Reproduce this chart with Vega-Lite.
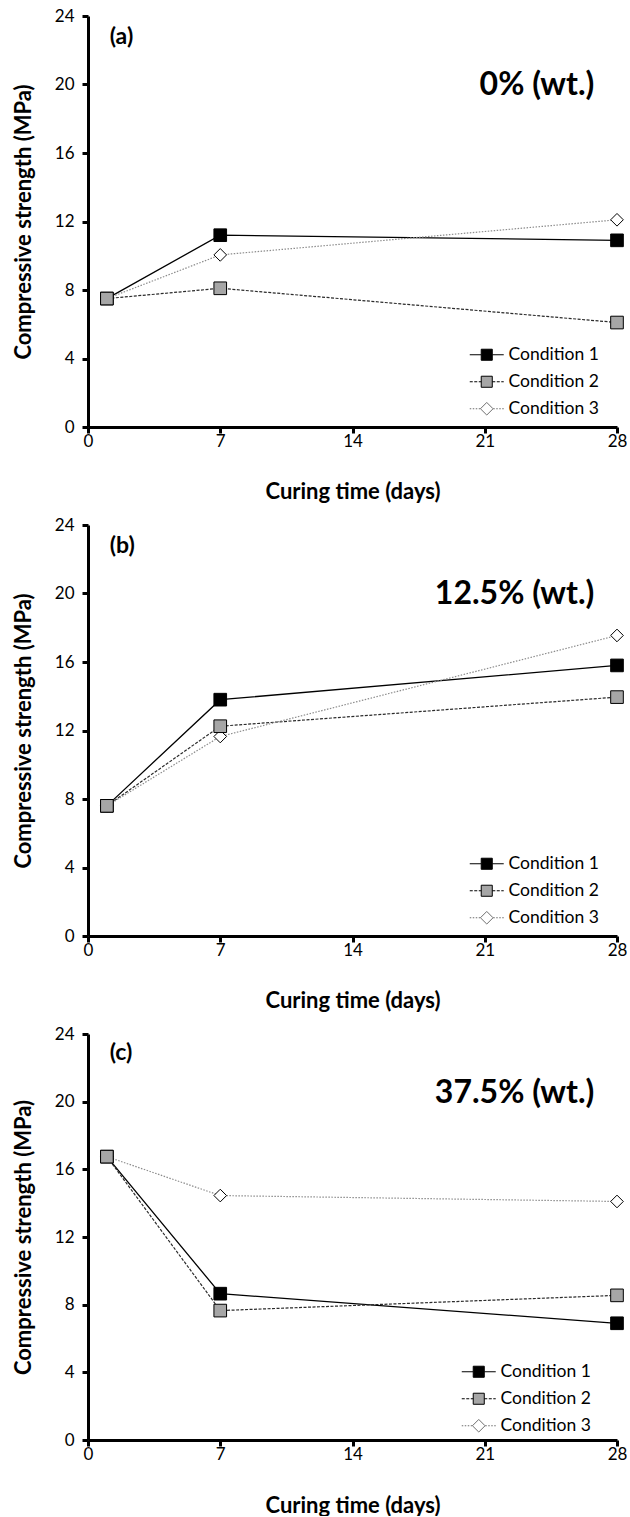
{
  "$schema": "https://vega.github.io/schema/vega-lite/v6.json",
  "padding": {"left": 12, "top": 7, "right": 0, "bottom": 0},
  "spacing": 14,
  "datasets": {
    "series": [
      {"panel": "a", "condition": "Condition 1", "day": 1, "strength": 7.5},
      {"panel": "a", "condition": "Condition 1", "day": 7, "strength": 11.2},
      {"panel": "a", "condition": "Condition 1", "day": 28, "strength": 10.9},
      {"panel": "a", "condition": "Condition 2", "day": 1, "strength": 7.5},
      {"panel": "a", "condition": "Condition 2", "day": 7, "strength": 8.1},
      {"panel": "a", "condition": "Condition 2", "day": 28, "strength": 6.1},
      {"panel": "a", "condition": "Condition 3", "day": 1, "strength": 7.5},
      {"panel": "a", "condition": "Condition 3", "day": 7, "strength": 10.05},
      {"panel": "a", "condition": "Condition 3", "day": 28, "strength": 12.1},
      {"panel": "b", "condition": "Condition 1", "day": 1, "strength": 7.6},
      {"panel": "b", "condition": "Condition 1", "day": 7, "strength": 13.8},
      {"panel": "b", "condition": "Condition 1", "day": 28, "strength": 15.8},
      {"panel": "b", "condition": "Condition 2", "day": 1, "strength": 7.6},
      {"panel": "b", "condition": "Condition 2", "day": 7, "strength": 12.25},
      {"panel": "b", "condition": "Condition 2", "day": 28, "strength": 13.95},
      {"panel": "b", "condition": "Condition 3", "day": 1, "strength": 7.6},
      {"panel": "b", "condition": "Condition 3", "day": 7, "strength": 11.65},
      {"panel": "b", "condition": "Condition 3", "day": 28, "strength": 17.55},
      {"panel": "c", "condition": "Condition 1", "day": 1, "strength": 16.75},
      {"panel": "c", "condition": "Condition 1", "day": 7, "strength": 8.65},
      {"panel": "c", "condition": "Condition 1", "day": 28, "strength": 6.9},
      {"panel": "c", "condition": "Condition 2", "day": 1, "strength": 16.75},
      {"panel": "c", "condition": "Condition 2", "day": 7, "strength": 7.65},
      {"panel": "c", "condition": "Condition 2", "day": 28, "strength": 8.55},
      {"panel": "c", "condition": "Condition 3", "day": 1, "strength": 16.75},
      {"panel": "c", "condition": "Condition 3", "day": 7, "strength": 14.45},
      {"panel": "c", "condition": "Condition 3", "day": 28, "strength": 14.1}
    ],
    "labels": [
      {"panel": "a", "tag": "(a)", "pct": "0% (wt.)"},
      {"panel": "b", "tag": "(b)", "pct": "12.5% (wt.)"},
      {"panel": "c", "tag": "(c)", "pct": "37.5% (wt.)"}
    ]
  },
  "vconcat": [
    {
      "width": 529, "height": 411,
      "layer": [
        {
          "data": {"name": "series"},
          "transform": [{"filter": "datum.panel === 'a' && datum.condition === 'Condition 1'"}],
          "mark": {"type": "line", "stroke": "#000000", "strokeWidth": 1.3},
          "encoding": {
            "x": {"field": "day", "type": "quantitative", "scale": {"domain": [0, 28], "nice": false}, "axis": {"values": [0, 7, 14, 21, 28], "title": "Curing time (days)", "labelFlush": false, "titlePadding": 32}},
            "y": {"field": "strength", "type": "quantitative", "scale": {"domain": [0, 24], "nice": false}, "axis": {"values": [0, 4, 8, 12, 16, 20, 24], "title": "Compressive strength (MPa)", "titlePadding": 19}}
          }
        },
        {
          "data": {"name": "series"},
          "transform": [{"filter": "datum.panel === 'a' && datum.condition === 'Condition 2'"}],
          "mark": {"type": "line", "stroke": "#2b2b2b", "strokeWidth": 1.2, "strokeDash": [3, 1.5]},
          "encoding": {"x": {"field": "day", "type": "quantitative"}, "y": {"field": "strength", "type": "quantitative"}}
        },
        {
          "data": {"name": "series"},
          "transform": [{"filter": "datum.panel === 'a' && datum.condition === 'Condition 3'"}],
          "mark": {"type": "line", "stroke": "#8c8c8c", "strokeWidth": 1.2, "strokeDash": [1.5, 1.5]},
          "encoding": {"x": {"field": "day", "type": "quantitative"}, "y": {"field": "strength", "type": "quantitative"}}
        },
        {
          "data": {"name": "series"},
          "transform": [{"filter": "datum.panel === 'a' && datum.condition === 'Condition 1'"}],
          "mark": {"type": "point", "shape": "square", "filled": true, "fill": "#000000", "stroke": "#000000", "strokeWidth": 1, "size": 160, "opacity": 1},
          "encoding": {"x": {"field": "day", "type": "quantitative"}, "y": {"field": "strength", "type": "quantitative"}}
        },
        {
          "data": {"name": "series"},
          "transform": [{"filter": "datum.panel === 'a' && datum.condition === 'Condition 3'"}],
          "mark": {"type": "point", "shape": "diamond", "filled": true, "fill": "#ffffff", "stroke": "#000000", "strokeWidth": 1, "size": 160, "opacity": 1},
          "encoding": {"x": {"field": "day", "type": "quantitative"}, "y": {"field": "strength", "type": "quantitative"}}
        },
        {
          "data": {"name": "series"},
          "transform": [{"filter": "datum.panel === 'a' && datum.condition === 'Condition 2'"}],
          "mark": {"type": "point", "shape": "square", "filled": true, "fill": "#a6a6a6", "stroke": "#000000", "strokeWidth": 1, "size": 160, "opacity": 1},
          "encoding": {"x": {"field": "day", "type": "quantitative"}, "y": {"field": "strength", "type": "quantitative"}}
        },
        {
          "data": {"name": "series"},
          "transform": [{"filter": "datum.panel === 'a'"}, {"filter": "false"}],
          "mark": {"type": "point", "filled": true, "size": 144, "strokeWidth": 1, "opacity": 1},
          "encoding": {
            "x": {"field": "day", "type": "quantitative"},
            "y": {"field": "strength", "type": "quantitative"},
            "shape": {"field": "condition", "type": "nominal", "scale": {"domain": ["Condition 1", "Condition 2", "Condition 3"], "range": ["M-2.833,0L-0.92,0M0.92,0L2.833,0M-0.92,-0.92L0.92,-0.92L0.92,0.92L-0.92,0.92Z", "M-2.833,0L-2.333,0M-2.083,0L-1.583,0M-1.333,0L-0.92,0M0.92,0L1.42,0M1.67,0L2.17,0M2.42,0L2.833,0M-0.92,-0.92L0.92,-0.92L0.92,0.92L-0.92,0.92Z", "M-2.833,0L-2.583,0M-2.333,0L-2.083,0M-1.833,0L-1.583,0M-1.333,0L-1.083,0M1.083,0L1.333,0M1.583,0L1.833,0M2.083,0L2.333,0M2.583,0L2.833,0M-1.05,0L0,-1.05L1.05,0L0,1.05Z"]}, "legend": {"title": null, "orient": "none", "legendX": 380, "legendY": 330, "symbolSize": 144, "symbolStrokeWidth": 1, "symbolOpacity": 1, "symbolOffset": 10, "labelOffset": 13, "labelFontSize": 17.5, "labelFont": "Lato", "labelColor": "black", "rowPadding": 8, "padding": 0}},
            "fill": {"field": "condition", "type": "nominal", "scale": {"domain": ["Condition 1", "Condition 2", "Condition 3"], "range": ["#000000", "#a6a6a6", "#ffffff"]}, "legend": {"title": null, "orient": "none", "legendX": 380, "legendY": 330, "symbolSize": 144, "symbolStrokeWidth": 1, "symbolOpacity": 1, "symbolOffset": 10, "labelOffset": 13, "labelFontSize": 17.5, "labelFont": "Lato", "labelColor": "black", "rowPadding": 8, "padding": 0}},
            "stroke": {"field": "condition", "type": "nominal", "scale": {"domain": ["Condition 1", "Condition 2", "Condition 3"], "range": ["#000000", "#000000", "#6e6e6e"]}, "legend": {"title": null, "orient": "none", "legendX": 380, "legendY": 330, "symbolSize": 144, "symbolStrokeWidth": 1, "symbolOpacity": 1, "symbolOffset": 10, "labelOffset": 13, "labelFontSize": 17.5, "labelFont": "Lato", "labelColor": "black", "rowPadding": 8, "padding": 0}}
          }
        },
        {
          "data": {"name": "labels"},
          "transform": [{"filter": "datum.panel === 'a'"}],
          "mark": {"type": "text", "align": "left", "baseline": "middle", "fontSize": 23, "fontWeight": "bold", "font": "Lato", "color": "black"},
          "encoding": {"x": {"datum": 1.15, "type": "quantitative"}, "y": {"datum": 22.75, "type": "quantitative"}, "text": {"field": "tag"}}
        },
        {
          "data": {"name": "labels"},
          "transform": [{"filter": "datum.panel === 'a'"}],
          "mark": {"type": "text", "align": "right", "baseline": "middle", "fontSize": 32, "fontWeight": "bold", "font": "Lato", "color": "black"},
          "encoding": {"x": {"datum": 26.8, "type": "quantitative"}, "y": {"datum": 20.0, "type": "quantitative"}, "text": {"field": "pct"}}
        }
      ]
    },
    {
      "width": 529, "height": 411,
      "layer": [
        {
          "data": {"name": "series"},
          "transform": [{"filter": "datum.panel === 'b' && datum.condition === 'Condition 1'"}],
          "mark": {"type": "line", "stroke": "#000000", "strokeWidth": 1.3},
          "encoding": {
            "x": {"field": "day", "type": "quantitative", "scale": {"domain": [0, 28], "nice": false}, "axis": {"values": [0, 7, 14, 21, 28], "title": "Curing time (days)", "labelFlush": false, "titlePadding": 32}},
            "y": {"field": "strength", "type": "quantitative", "scale": {"domain": [0, 24], "nice": false}, "axis": {"values": [0, 4, 8, 12, 16, 20, 24], "title": "Compressive strength (MPa)", "titlePadding": 19}}
          }
        },
        {
          "data": {"name": "series"},
          "transform": [{"filter": "datum.panel === 'b' && datum.condition === 'Condition 2'"}],
          "mark": {"type": "line", "stroke": "#2b2b2b", "strokeWidth": 1.2, "strokeDash": [3, 1.5]},
          "encoding": {"x": {"field": "day", "type": "quantitative"}, "y": {"field": "strength", "type": "quantitative"}}
        },
        {
          "data": {"name": "series"},
          "transform": [{"filter": "datum.panel === 'b' && datum.condition === 'Condition 3'"}],
          "mark": {"type": "line", "stroke": "#8c8c8c", "strokeWidth": 1.2, "strokeDash": [1.5, 1.5]},
          "encoding": {"x": {"field": "day", "type": "quantitative"}, "y": {"field": "strength", "type": "quantitative"}}
        },
        {
          "data": {"name": "series"},
          "transform": [{"filter": "datum.panel === 'b' && datum.condition === 'Condition 1'"}],
          "mark": {"type": "point", "shape": "square", "filled": true, "fill": "#000000", "stroke": "#000000", "strokeWidth": 1, "size": 160, "opacity": 1},
          "encoding": {"x": {"field": "day", "type": "quantitative"}, "y": {"field": "strength", "type": "quantitative"}}
        },
        {
          "data": {"name": "series"},
          "transform": [{"filter": "datum.panel === 'b' && datum.condition === 'Condition 3'"}],
          "mark": {"type": "point", "shape": "diamond", "filled": true, "fill": "#ffffff", "stroke": "#000000", "strokeWidth": 1, "size": 160, "opacity": 1},
          "encoding": {"x": {"field": "day", "type": "quantitative"}, "y": {"field": "strength", "type": "quantitative"}}
        },
        {
          "data": {"name": "series"},
          "transform": [{"filter": "datum.panel === 'b' && datum.condition === 'Condition 2'"}],
          "mark": {"type": "point", "shape": "square", "filled": true, "fill": "#a6a6a6", "stroke": "#000000", "strokeWidth": 1, "size": 160, "opacity": 1},
          "encoding": {"x": {"field": "day", "type": "quantitative"}, "y": {"field": "strength", "type": "quantitative"}}
        },
        {
          "data": {"name": "series"},
          "transform": [{"filter": "datum.panel === 'b'"}, {"filter": "false"}],
          "mark": {"type": "point", "filled": true, "size": 144, "strokeWidth": 1, "opacity": 1},
          "encoding": {
            "x": {"field": "day", "type": "quantitative"},
            "y": {"field": "strength", "type": "quantitative"},
            "shape": {"field": "condition", "type": "nominal", "scale": {"domain": ["Condition 1", "Condition 2", "Condition 3"], "range": ["M-2.833,0L-0.92,0M0.92,0L2.833,0M-0.92,-0.92L0.92,-0.92L0.92,0.92L-0.92,0.92Z", "M-2.833,0L-2.333,0M-2.083,0L-1.583,0M-1.333,0L-0.92,0M0.92,0L1.42,0M1.67,0L2.17,0M2.42,0L2.833,0M-0.92,-0.92L0.92,-0.92L0.92,0.92L-0.92,0.92Z", "M-2.833,0L-2.583,0M-2.333,0L-2.083,0M-1.833,0L-1.583,0M-1.333,0L-1.083,0M1.083,0L1.333,0M1.583,0L1.833,0M2.083,0L2.333,0M2.583,0L2.833,0M-1.05,0L0,-1.05L1.05,0L0,1.05Z"]}, "legend": {"title": null, "orient": "none", "legendX": 380, "legendY": 330, "symbolSize": 144, "symbolStrokeWidth": 1, "symbolOpacity": 1, "symbolOffset": 10, "labelOffset": 13, "labelFontSize": 17.5, "labelFont": "Lato", "labelColor": "black", "rowPadding": 8, "padding": 0}},
            "fill": {"field": "condition", "type": "nominal", "scale": {"domain": ["Condition 1", "Condition 2", "Condition 3"], "range": ["#000000", "#a6a6a6", "#ffffff"]}, "legend": {"title": null, "orient": "none", "legendX": 380, "legendY": 330, "symbolSize": 144, "symbolStrokeWidth": 1, "symbolOpacity": 1, "symbolOffset": 10, "labelOffset": 13, "labelFontSize": 17.5, "labelFont": "Lato", "labelColor": "black", "rowPadding": 8, "padding": 0}},
            "stroke": {"field": "condition", "type": "nominal", "scale": {"domain": ["Condition 1", "Condition 2", "Condition 3"], "range": ["#000000", "#000000", "#6e6e6e"]}, "legend": {"title": null, "orient": "none", "legendX": 380, "legendY": 330, "symbolSize": 144, "symbolStrokeWidth": 1, "symbolOpacity": 1, "symbolOffset": 10, "labelOffset": 13, "labelFontSize": 17.5, "labelFont": "Lato", "labelColor": "black", "rowPadding": 8, "padding": 0}}
          }
        },
        {
          "data": {"name": "labels"},
          "transform": [{"filter": "datum.panel === 'b'"}],
          "mark": {"type": "text", "align": "left", "baseline": "middle", "fontSize": 23, "fontWeight": "bold", "font": "Lato", "color": "black"},
          "encoding": {"x": {"datum": 1.15, "type": "quantitative"}, "y": {"datum": 22.75, "type": "quantitative"}, "text": {"field": "tag"}}
        },
        {
          "data": {"name": "labels"},
          "transform": [{"filter": "datum.panel === 'b'"}],
          "mark": {"type": "text", "align": "right", "baseline": "middle", "fontSize": 32, "fontWeight": "bold", "font": "Lato", "color": "black"},
          "encoding": {"x": {"datum": 26.8, "type": "quantitative"}, "y": {"datum": 20.0, "type": "quantitative"}, "text": {"field": "pct"}}
        }
      ]
    },
    {
      "width": 529, "height": 406,
      "layer": [
        {
          "data": {"name": "series"},
          "transform": [{"filter": "datum.panel === 'c' && datum.condition === 'Condition 1'"}],
          "mark": {"type": "line", "stroke": "#000000", "strokeWidth": 1.3},
          "encoding": {
            "x": {"field": "day", "type": "quantitative", "scale": {"domain": [0, 28], "nice": false}, "axis": {"values": [0, 7, 14, 21, 28], "title": "Curing time (days)", "labelFlush": false, "titlePadding": 33}},
            "y": {"field": "strength", "type": "quantitative", "scale": {"domain": [0, 24], "nice": false}, "axis": {"values": [0, 4, 8, 12, 16, 20, 24], "title": "Compressive strength (MPa)", "titlePadding": 19}}
          }
        },
        {
          "data": {"name": "series"},
          "transform": [{"filter": "datum.panel === 'c' && datum.condition === 'Condition 2'"}],
          "mark": {"type": "line", "stroke": "#2b2b2b", "strokeWidth": 1.2, "strokeDash": [3, 1.5]},
          "encoding": {"x": {"field": "day", "type": "quantitative"}, "y": {"field": "strength", "type": "quantitative"}}
        },
        {
          "data": {"name": "series"},
          "transform": [{"filter": "datum.panel === 'c' && datum.condition === 'Condition 3'"}],
          "mark": {"type": "line", "stroke": "#8c8c8c", "strokeWidth": 1.2, "strokeDash": [1.5, 1.5]},
          "encoding": {"x": {"field": "day", "type": "quantitative"}, "y": {"field": "strength", "type": "quantitative"}}
        },
        {
          "data": {"name": "series"},
          "transform": [{"filter": "datum.panel === 'c' && datum.condition === 'Condition 1'"}],
          "mark": {"type": "point", "shape": "square", "filled": true, "fill": "#000000", "stroke": "#000000", "strokeWidth": 1, "size": 160, "opacity": 1},
          "encoding": {"x": {"field": "day", "type": "quantitative"}, "y": {"field": "strength", "type": "quantitative"}}
        },
        {
          "data": {"name": "series"},
          "transform": [{"filter": "datum.panel === 'c' && datum.condition === 'Condition 3'"}],
          "mark": {"type": "point", "shape": "diamond", "filled": true, "fill": "#ffffff", "stroke": "#000000", "strokeWidth": 1, "size": 160, "opacity": 1},
          "encoding": {"x": {"field": "day", "type": "quantitative"}, "y": {"field": "strength", "type": "quantitative"}}
        },
        {
          "data": {"name": "series"},
          "transform": [{"filter": "datum.panel === 'c' && datum.condition === 'Condition 2'"}],
          "mark": {"type": "point", "shape": "square", "filled": true, "fill": "#a6a6a6", "stroke": "#000000", "strokeWidth": 1, "size": 160, "opacity": 1},
          "encoding": {"x": {"field": "day", "type": "quantitative"}, "y": {"field": "strength", "type": "quantitative"}}
        },
        {
          "data": {"name": "series"},
          "transform": [{"filter": "datum.panel === 'c'"}, {"filter": "false"}],
          "mark": {"type": "point", "filled": true, "size": 144, "strokeWidth": 1, "opacity": 1},
          "encoding": {
            "x": {"field": "day", "type": "quantitative"},
            "y": {"field": "strength", "type": "quantitative"},
            "shape": {"field": "condition", "type": "nominal", "scale": {"domain": ["Condition 1", "Condition 2", "Condition 3"], "range": ["M-2.833,0L-0.92,0M0.92,0L2.833,0M-0.92,-0.92L0.92,-0.92L0.92,0.92L-0.92,0.92Z", "M-2.833,0L-2.333,0M-2.083,0L-1.583,0M-1.333,0L-0.92,0M0.92,0L1.42,0M1.67,0L2.17,0M2.42,0L2.833,0M-0.92,-0.92L0.92,-0.92L0.92,0.92L-0.92,0.92Z", "M-2.833,0L-2.583,0M-2.333,0L-2.083,0M-1.833,0L-1.583,0M-1.333,0L-1.083,0M1.083,0L1.333,0M1.583,0L1.833,0M2.083,0L2.333,0M2.583,0L2.833,0M-1.05,0L0,-1.05L1.05,0L0,1.05Z"]}, "legend": {"title": null, "orient": "none", "legendX": 372, "legendY": 329, "symbolSize": 144, "symbolStrokeWidth": 1, "symbolOpacity": 1, "symbolOffset": 10, "labelOffset": 13, "labelFontSize": 17.5, "labelFont": "Lato", "labelColor": "black", "rowPadding": 8, "padding": 0}},
            "fill": {"field": "condition", "type": "nominal", "scale": {"domain": ["Condition 1", "Condition 2", "Condition 3"], "range": ["#000000", "#a6a6a6", "#ffffff"]}, "legend": {"title": null, "orient": "none", "legendX": 372, "legendY": 329, "symbolSize": 144, "symbolStrokeWidth": 1, "symbolOpacity": 1, "symbolOffset": 10, "labelOffset": 13, "labelFontSize": 17.5, "labelFont": "Lato", "labelColor": "black", "rowPadding": 8, "padding": 0}},
            "stroke": {"field": "condition", "type": "nominal", "scale": {"domain": ["Condition 1", "Condition 2", "Condition 3"], "range": ["#000000", "#000000", "#6e6e6e"]}, "legend": {"title": null, "orient": "none", "legendX": 372, "legendY": 329, "symbolSize": 144, "symbolStrokeWidth": 1, "symbolOpacity": 1, "symbolOffset": 10, "labelOffset": 13, "labelFontSize": 17.5, "labelFont": "Lato", "labelColor": "black", "rowPadding": 8, "padding": 0}}
          }
        },
        {
          "data": {"name": "labels"},
          "transform": [{"filter": "datum.panel === 'c'"}],
          "mark": {"type": "text", "align": "left", "baseline": "middle", "fontSize": 23, "fontWeight": "bold", "font": "Lato", "color": "black"},
          "encoding": {"x": {"datum": 1.15, "type": "quantitative"}, "y": {"datum": 22.9, "type": "quantitative"}, "text": {"field": "tag"}}
        },
        {
          "data": {"name": "labels"},
          "transform": [{"filter": "datum.panel === 'c'"}],
          "mark": {"type": "text", "align": "right", "baseline": "middle", "fontSize": 32, "fontWeight": "bold", "font": "Lato", "color": "black"},
          "encoding": {"x": {"datum": 26.8, "type": "quantitative"}, "y": {"datum": 20.5, "type": "quantitative"}, "text": {"field": "pct"}}
        }
      ]
    }
  ],
  "resolve": {
    "scale": {"shape": "independent", "fill": "independent", "stroke": "independent"},
    "legend": {"shape": "independent", "fill": "independent", "stroke": "independent"}
  },
  "config": {
    "font": "Lato",
    "view": {"stroke": null},
    "axis": {
      "grid": false,
      "domainColor": "black", "domainWidth": 3,
      "tickColor": "black", "tickWidth": 3, "tickSize": 6,
      "labelFont": "Lato", "labelFontSize": 17, "labelColor": "black", "labelPadding": 0,
      "titleFont": "Lato", "titleFontSize": 22, "titleFontWeight": "bold", "titleColor": "black"
    },
    "axisY": {"labelPadding": 8}
  }
}
